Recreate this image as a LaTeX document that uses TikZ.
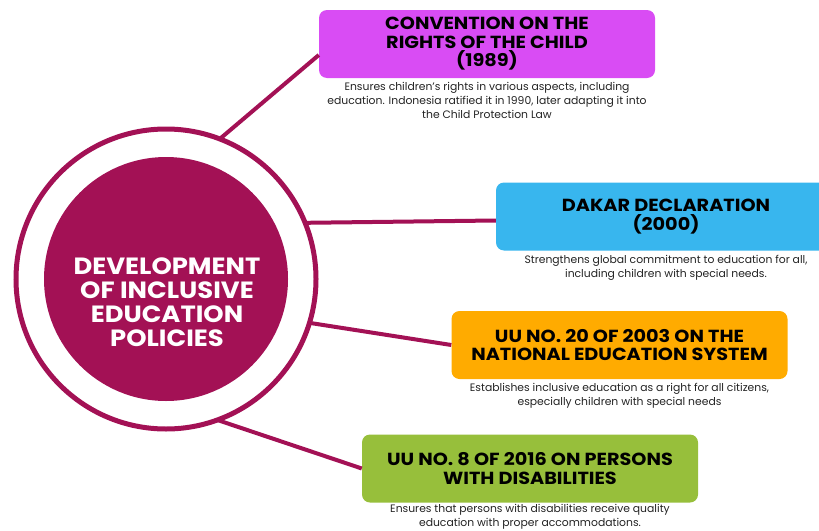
\documentclass[tikz,border=0pt]{standalone}
\usepackage{fontspec}
\setmainfont{Poppins}
\newfontfamily\headfont{Poppins}[FakeStretch=1.1]
\usetikzlibrary{positioning}

\definecolor{berry}{RGB}{163,17,85}
\definecolor{crcpink}{RGB}{217,76,244}
\definecolor{dakarblue}{RGB}{56,182,238}
\definecolor{uuorange}{RGB}{255,171,0}
\definecolor{uugreen}{RGB}{151,191,59}
\definecolor{notegray}{RGB}{35,35,35}

\begin{document}
\begin{tikzpicture}[
			x=1pt, y=-1pt,
			policy/.style={
				rounded corners=8pt,
				align=center,
				minimum width=336pt,
				minimum height=68pt,
				inner sep=0pt,
				font=\headfont\fontsize{17.5}{18.5}\selectfont\bfseries
			},
			note/.style={
				align=center,
				inner sep=0pt,
				text=notegray,
				font=\fontsize{10.8}{14}\selectfont
			},
			link/.style={draw=berry, line width=4pt},
			node distance=4pt
			]
			
			\useasboundingbox (0,0) rectangle (819,530);
			\clip (0,0) rectangle (819,530);
			
			% hub in the middle
			\node[circle, draw=berry, fill=white, line width=5pt, outer sep=0pt,
				minimum size=300pt, inner sep=0pt] (ring) at (166,279) {};
			\node[circle, fill=berry, minimum size=244pt, inner sep=0pt] (hub) at (ring.center) {};
			\node[text=white, align=center, font=\headfont\fontsize{23.5}{24}\selectfont\bfseries]
				(hubtext) at (167,302) {DEVELOPMENT\\OF INCLUSIVE\\EDUCATION\\POLICIES};
			
			% policy boxes
			\node[policy, fill=crcpink] (b1) at (487,44) {CONVENTION ON THE\\RIGHTS OF THE CHILD\\(1989)};
			\node[policy, fill=dakarblue, minimum width=340pt] (b2) at (666,216.5) {DAKAR DECLARATION\\(2000)};
			\node[policy, fill=uuorange] (b3) at (619.5,345) {UU NO. 20 OF 2003 ON THE\\NATIONAL EDUCATION SYSTEM};
			\node[policy, fill=uugreen] (b4) at (530,468.5) {UU NO. 8 OF 2016 ON PERSONS\\WITH DISABILITIES};
			
			% notes under the boxes
			\node[note, below=of b1] (n1) {Ensures children's rights in various aspects, including\\education. Indonesia ratified it in 1990, later adapting it into\\the Child Protection Law};
			\node[note, below=of b2] (n2) {Strengthens global commitment to education for all,\\including children with special needs.};
			\node[note, below=of b3] (n3) {Establishes inclusive education as a right for all citizens,\\especially children with special needs};
			\node[note, below=1pt of b4] (n4) {Ensures that persons with disabilities receive quality\\education with proper accommodations.};
			
			\draw[link] (ring.69) -- ([yshift=-11pt]b1.west);
			\draw[link] (ring.22) -- ([yshift=-4pt]b2.west);
			\draw[link] (ring.-17) -- (b3.west);
			\draw[link] (ring.-70) -- (b4.west);
			
		\end{tikzpicture}
\end{document}
